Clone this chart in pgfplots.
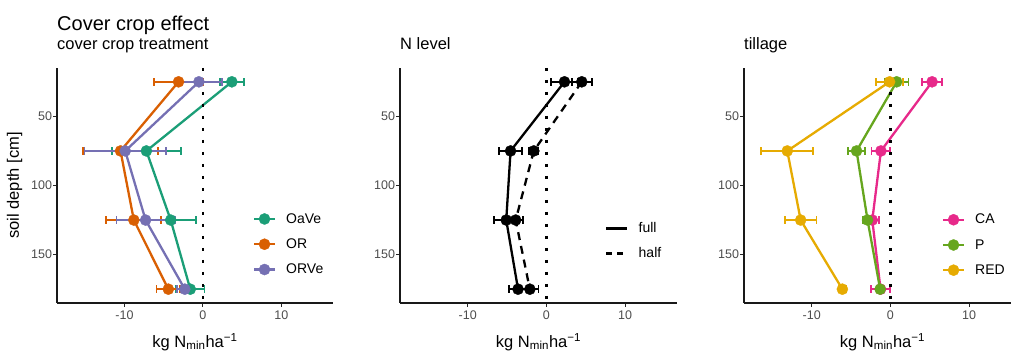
\documentclass[border=0pt]{standalone}
\usepackage{pgfplots}
\pgfplotsset{compat=1.18}
\usepackage{pgfplotstable}
\usepackage{fontspec}
\setmainfont{Liberation Sans}
\definecolor{cOaVe}{HTML}{1B9E77}
\definecolor{cOR}{HTML}{D95F02}
\definecolor{cORVe}{HTML}{7570B3}
\definecolor{cCA}{HTML}{E7298A}
\definecolor{cP}{HTML}{66A61E}
\definecolor{cRED}{HTML}{E6AB02}
\definecolor{tickgray}{HTML}{4D4D4D}

% depth in cm, value in kg Nmin/ha, xe = error half-width
\pgfplotstableread{
x xe y
3.7 1.5 25
-7.2 4.4 75
-4.1 3.2 125
-1.6 1.8 175
}\OaVe
\pgfplotstableread{
x xe y
-3.1 3.1 25
-10.5 4.8 75
-8.8 3.5 125
-4.4 1.5 175
}\OR
\pgfplotstableread{
x xe y
-0.5 2.9 25
-9.9 5.2 75
-7.3 3.7 125
-2.3 1.0 175
}\ORVe
\pgfplotstableread{
x xe y
2.3 1.7 25
-4.55 1.5 75
-5.1 1.6 125
-3.6 1.1 175
}\full
\pgfplotstableread{
x xe y
4.5 1.25 25
-1.6 0.6 75
-3.9 0.9 125
-2.1 1.1 175
}\half
\pgfplotstableread{
x xe y
5.3 1.25 25
-1.2 1.2 75
-2.3 0.85 125
-1.25 1.2 175
}\CA
\pgfplotstableread{
x xe y
0.8 1.5 25
-4.3 1.1 75
-2.9 0.6 125
-1.3 0.4 175
}\Ptab
\pgfplotstableread{
x xe y
-0.1 1.75 25
-13.1 3.3 75
-11.4 2.0 125
-6.1 0.5 175
}\RED

\pgfplotsset{
  panel/.style={
    scale only axis, width=276pt, height=235pt,
    xmin=-18.6, xmax=16.6, ymin=-185, ymax=-15,
    axis x line*=bottom, axis y line*=left,
    axis line style={-, line width=1.1pt, black!90},
    xtick={-10,0,10}, xticklabels={-10,0,10},
    ytick={-150,-100,-50}, yticklabels={150,100,50},
    tick align=outside, major tick length=4pt,
    tick style={line width=1.1pt, black!85},
    ticklabel style={font=\fontsize{12.5}{14}\selectfont, text=tickgray},
    yticklabel style={xshift=2.5pt},
    xticklabel style={yshift=0pt},
    xlabel={kg N\textsubscript{min}ha\textsuperscript{−1}},
    xlabel style={at={(axis description cs:0.5,-0.1885)}, anchor=base, font=\fontsize{16.5}{18}\selectfont},
    title style={at={(axis description cs:0,1)}, anchor=base west, yshift=12pt, inner sep=0pt, font=\fontsize{16.5}{18}\selectfont},
    legend cell align=left,
    legend image code/.code={\draw[mark repeat=2,mark phase=2,##1] plot coordinates {(0pt,0pt) (10.5pt,0pt) (21pt,0pt)};},
    legend style={draw=none, fill=none, anchor=west, font=\fontsize{14}{16}\selectfont, row sep=14pt, column sep=10pt, inner sep=0pt, nodes={inner sep=0pt}},
  },
  ser/.style={color=#1, line width=2.3pt, mark=*, mark size=5.6pt, mark options={solid, line width=0.3pt},
    error bars/x dir=both, error bars/x explicit,
    error bars/error mark=|,
    error bars/error bar style={line width=1.8pt, solid},
    error bars/error mark options={line width=1.8pt, mark size=3.8pt, solid}},
  zeroline/.style={forget plot, black, line width=2.6pt, dash pattern=on 2.6pt off 9.4pt},
}

\begin{document}
\begin{tikzpicture}
\useasboundingbox (0,0) rectangle (1011pt,352pt);
\node[anchor=base west, font=\fontsize{20}{24}\selectfont, inner sep=0pt] at (57pt,321.3pt) {Cover crop effect};

\begin{axis}[panel, at={(57pt,49pt)}, anchor=south west,
  title={cover crop treatment},
  ylabel={soil depth [cm]},
  ylabel style={at={(axis description cs:-0.1377,0.5)}, anchor=base, font=\fontsize{16.5}{18}\selectfont},
  legend style={at={(axis description cs:0.709,0.250)}}]
\addplot[ser=cOaVe] table[x=x, y expr=-\thisrow{y}, x error=xe] {\OaVe};
\addlegendentry{OaVe}
\addplot[ser=cOR] table[x=x, y expr=-\thisrow{y}, x error=xe] {\OR};
\addlegendentry{OR}
\addplot[ser=cORVe] table[x=x, y expr=-\thisrow{y}, x error=xe] {\ORVe};
\addlegendentry{ORVe}
\addplot[zeroline] coordinates {(0,-15) (0,-185)};
\end{axis}

\begin{axis}[panel, at={(400pt,49pt)}, anchor=south west, width=277pt,
  title={N level},
  legend style={at={(axis description cs:0.740,0.264)}, row sep=13pt}]
\addlegendimage{black, line width=2.5pt}
\addlegendentry{full}
\addlegendimage{black, line width=2.5pt, dash pattern=on 6pt off 5pt}
\addlegendentry{half}
\addplot[ser=black, forget plot] table[x=x, y expr=-\thisrow{y}, x error=xe] {\full};
\addplot[ser=black, dash pattern=on 8pt off 6pt, forget plot] table[x=x, y expr=-\thisrow{y}, x error=xe] {\half};
\addplot[zeroline] coordinates {(0,-15) (0,-185)};
\end{axis}

\begin{axis}[panel, at={(744pt,49pt)}, anchor=south west, width=277pt,
  title={tillage},
  legend style={at={(axis description cs:0.7137,0.247)}}]
\addplot[ser=cCA] table[x=x, y expr=-\thisrow{y}, x error=xe] {\CA};
\addlegendentry{CA}
\addplot[ser=cP] table[x=x, y expr=-\thisrow{y}, x error=xe] {\Ptab};
\addlegendentry{P}
\addplot[ser=cRED] table[x=x, y expr=-\thisrow{y}, x error=xe] {\RED};
\addlegendentry{RED}
\addplot[zeroline] coordinates {(0,-15) (0,-185)};
\end{axis}
\end{tikzpicture}
\end{document}
